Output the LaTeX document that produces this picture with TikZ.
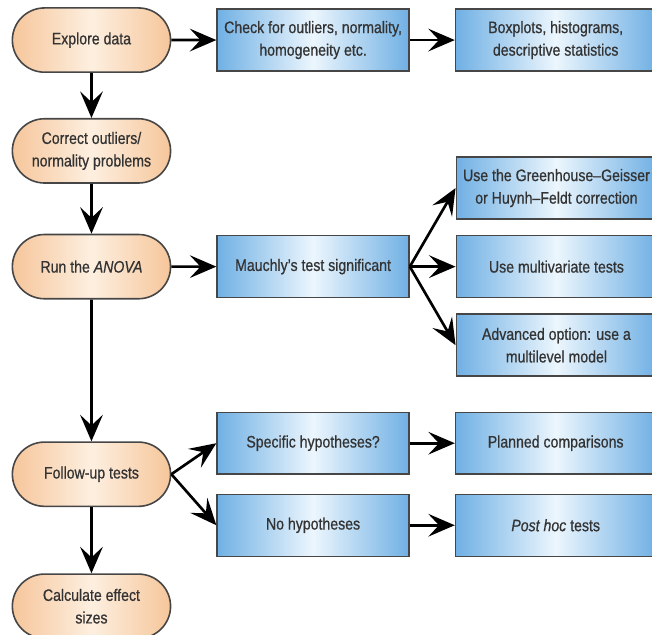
\documentclass[tikz,border=0pt]{standalone}
\usepackage{fontspec}
\setmainfont{Liberation Sans}[FakeStretch=0.85, FakeBold=0.7]
\usepackage{xcolor}
\usetikzlibrary{positioning, arrows.meta, shapes.misc}

\definecolor{peach}{RGB}{246,198,155}
\definecolor{peachlight}{RGB}{253,239,224}
\definecolor{skyblue}{RGB}{112,176,228}
\definecolor{skylight}{RGB}{236,246,253}
\definecolor{edgegray}{RGB}{70,70,70}

\begin{document}
\begin{tikzpicture}[
    node distance=1.2cm and 1.2cm,
    font=\fontsize{12.5}{17}\selectfont,
    stage/.style={
        rounded rectangle,
        draw=edgegray,
        line width=1.2pt,
        left color=peach,
        right color=peach,
        middle color=peachlight,
        text=black!80,
        align=center,
        minimum width=4.42cm,
        minimum height=1.7cm
    },
    check/.style={
        rectangle,
        draw=edgegray,
        line width=1.1pt,
        left color=skyblue,
        right color=skyblue,
        middle color=skylight,
        text=black!80,
        align=center,
        minimum width=5.08cm,
        minimum height=1.64cm
    },
    result/.style={
        check,
        minimum width=5.3cm
    },
    arrow/.style={
        line width=2pt,
        -{Stealth[length=7mm, width=6mm, inset=2.8mm]}
    }
]

\useasboundingbox (-2.42,1.06) rectangle (14.83,-15.72);

% Main steps
\node[stage] (explore) {Explore data};

\node[stage, below=1.19cm of explore] (correct) {
    Correct outliers/\\
    normality problems
};

\node[stage, below=1.32cm of correct] (anova) {Run the \textit{ANOVA}};

\node[stage, below=3.75cm of anova] (follow) {Follow-up tests};

\node[stage, below=1.75cm of follow] (effect) {
    Calculate effect\\
    sizes
};

% Data checks
\node[check, right=1.19cm of explore] (assume) {
    Check for outliers, normality,\\
    homogeneity etc.
};

\node[result, right=1.19cm of assume] (plots) {
    Boxplots, histograms,\\
    descriptive statistics
};

% Sphericity
\node[check, right=1.19cm of anova] (mauchly) {Mauchly's test significant};

\node[result, right=1.21cm of mauchly] (multi) {Use multivariate tests};

\node[result, above=0.4cm of multi] (greenhouse) {
    Use the Greenhouse--Geisser\\
    or Huynh--Feldt correction
};

\node[result, below=0.4cm of multi] (multilevel) {
    Advanced option: use a\\
    multilevel model
};

% Follow-up branches
\node[check, right=1.19cm of follow, yshift=0.82cm] (specific) {Specific hypotheses?};

\node[check, right=1.19cm of follow, yshift=-1.35cm] (nohyp) {No hypotheses};

\node[result, right=1.19cm of specific] (planned) {Planned comparisons};

\node[result, right=1.19cm of nohyp] (posthoc) {\textit{Post hoc} tests};


% Arrows
\draw[arrow] (explore) -- (correct);
\draw[arrow] (correct) -- (anova);
\draw[arrow] (anova) -- (follow);
\draw[arrow] (follow) -- (effect);

\draw[arrow] (explore) -- (assume);
\draw[arrow] (assume) -- (plots);

\draw[arrow] (anova) -- (mauchly);
\draw[arrow] (mauchly.east) -- (greenhouse.west);
\draw[arrow] (mauchly.east) -- (multi.west);
\draw[arrow] (mauchly.east) -- (multilevel.west);

\draw[arrow] (follow.east) -- (specific.west);
\draw[arrow] (follow.east) -- (nohyp.west);
\draw[arrow] (specific) -- (planned);
\draw[arrow] (nohyp) -- (posthoc);

\end{tikzpicture}
\end{document}
